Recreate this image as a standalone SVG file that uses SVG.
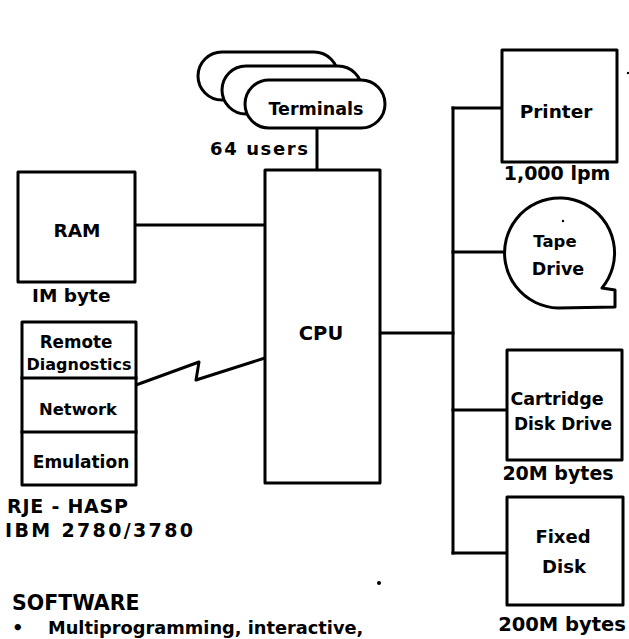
<svg xmlns="http://www.w3.org/2000/svg" width="629" height="639" viewBox="0 0 629 639">
<style>
.box{fill:#fff;stroke:#000;stroke-width:3;stroke-linejoin:round}
.ln{fill:none;stroke:#000;stroke-width:3;stroke-linejoin:round;stroke-linecap:square}
text{font-family:"DejaVu Sans","Liberation Sans",sans-serif;font-weight:bold;fill:#000}
.c{text-anchor:middle}
.dot{fill:#000}
</style>
<rect width="629" height="639" fill="#fff"/>
<g id="connectors">
<line class="ln" x1="317" y1="128" x2="317" y2="170"/>
<line class="ln" x1="135" y1="225" x2="265" y2="225"/>
<polyline class="ln" points="136,385 199,362 196,380 265,358"/>
<line class="ln" x1="380" y1="333" x2="453" y2="333"/>
<line class="ln" x1="453" y1="108" x2="453" y2="553"/>
<line class="ln" x1="453" y1="108" x2="502" y2="108"/>
<line class="ln" x1="453" y1="252" x2="503" y2="252"/>
<line class="ln" x1="453" y1="410" x2="507" y2="410"/>
<line class="ln" x1="453" y1="553" x2="507" y2="553"/>
</g>
<g id="terminals">
<rect class="box" x="198" y="52" width="140" height="48" rx="24"/>
<rect class="box" x="222" y="66" width="140" height="48" rx="24"/>
<rect class="box" x="245" y="80" width="140" height="48" rx="24"/>
<text class="c" x="316" y="115" font-size="17.5">Terminals</text>
<text x="210" y="155" font-size="18" textLength="98">64 users</text>
</g>
<g id="cpu">
<rect class="box" x="265" y="170" width="115" height="313"/>
<text class="c" x="321" y="340" font-size="19.5">CPU</text>
</g>
<g id="ram">
<rect class="box" x="18" y="172" width="117" height="110"/>
<text class="c" x="77" y="237" font-size="18.5">RAM</text>
<text x="32" y="302" font-size="18.5">IM byte</text>
</g>
<g id="comms">
<rect class="box" x="22" y="322" width="114" height="163"/>
<line class="ln" x1="22" y1="378" x2="136" y2="378"/>
<line class="ln" x1="22" y1="432" x2="136" y2="432"/>
<text class="c" x="76" y="348" font-size="16.8">Remote</text>
<text class="c" x="79" y="370" font-size="16">Diagnostics</text>
<text class="c" x="78" y="415" font-size="16.4">Network</text>
<text class="c" x="81" y="468" font-size="17">Emulation</text>
<text x="7" y="513" font-size="19" textLength="121">RJE - HASP</text>
<text x="5" y="537" font-size="19" textLength="188">IBM 2780/3780</text>
</g>
<g id="printer">
<rect class="box" x="502" y="50" width="115" height="112"/>
<text class="c" x="556" y="118" font-size="18.5">Printer</text>
<text class="c" x="557" y="180" font-size="19">1,000 lpm</text>
</g>
<g id="tape">
<path class="box" d="M602,288 A55,55 0 1 0 558,308 L615,307 L615,290 Z"/>
<text class="c" x="555" y="247" font-size="16.5">Tape</text>
<text class="c" x="558" y="275" font-size="17.5">Drive</text>
</g>
<g id="cartridge">
<rect class="box" x="507" y="350" width="115" height="110"/>
<text class="c" x="557" y="405" font-size="17.5">Cartridge</text>
<text class="c" x="563" y="430" font-size="17">Disk Drive</text>
<text class="c" x="558" y="480" font-size="19">20M bytes</text>
</g>
<g id="fixed">
<rect class="box" x="507" y="497" width="116" height="108"/>
<text class="c" x="563" y="543" font-size="18">Fixed</text>
<text class="c" x="564" y="573" font-size="18">Disk</text>
<text class="c" x="562" y="631" font-size="19.5">200M bytes</text>
</g>
<g id="software">
<text x="12" y="610" font-size="20.5">SOFTWARE</text>
<text x="12" y="634" font-size="18">•</text>
<text x="48" y="634" font-size="17.8">Multiprogramming, interactive,</text>
</g>
<circle class="dot" cx="628" cy="73" r="1.2"/>
<circle class="dot" cx="563" cy="221" r="1.2"/>
<circle class="dot" cx="379" cy="583" r="2"/>
</svg>
